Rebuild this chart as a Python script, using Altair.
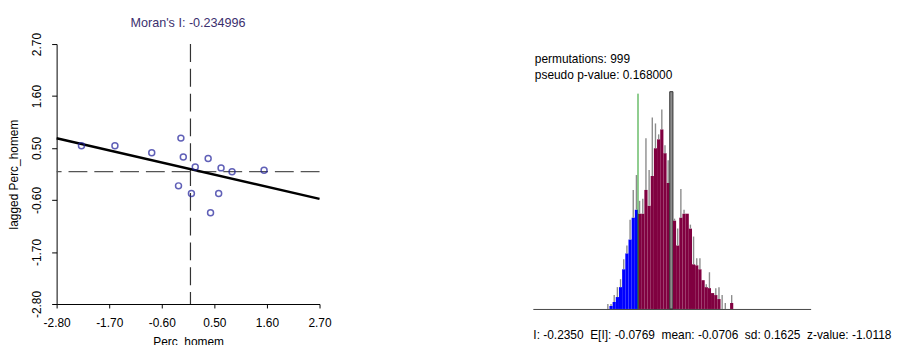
import altair as alt
import pandas as pd

FONT = "Liberation Sans"

# ---------------- Moran scatter plot data ----------------
perc_homem = [-2.28, -1.58, -0.81, -0.20, -0.15, 0.10, 0.37, 0.64, 0.87, 1.54, -0.25, 0.02, 0.59, 0.42]
lagged_perc_homem = [0.55, 0.55, 0.40, 0.71, 0.31, 0.10, 0.28, 0.08, 0.00, 0.03, -0.30, -0.46, -0.46, -0.87]
axis_ticks = [-2.80, -1.70, -0.60, 0.50, 1.60, 2.70]
axis_range = [-2.80, 2.70]
morans_i_title = "Moran's I: -0.234996"

# ---------------- permutation histogram data ----------------
bin_start = -0.435
bin_width = 0.02
fill_counts = [0, 3, 7, 12, 22, 40, 56, 70, 92, 100,
               96, 96, 120, 104, 134, 162, 171, 181, 157, 127,
               219, 89, 64, 92, 96, 96, 81, 45, 44, 40,
               29, 22, 21, 16, 14, 10, 0, 0, 0, 6]
outline_counts = [5, 5, 14, 22, 30, 50, 64, 90, 120, 135,
                  109, 111, 172, 140, 193, 187, 176, 201, 165, 150,
                  219, 91, 81, 121, 100, 96, 85, 73, 51, 51,
                  29, 25, 37, 16, 21, 22, 14, 6, 0, 14]
observed_i = -0.2350
observed_line_top = 217
hist_x_range = [-0.8975, 0.8525]
hist_y_range = [0, 267]
info_lines = ["permutations: 999", "pseudo p-value: 0.168000"]
info_y = [252, 236]
info_x = -0.885
stats_items = ["I: -0.2350", "E[I]: -0.0769", "mean: -0.0706", "sd: 0.1625", "z-value: -1.0118"]
stats_text = "\u00a0 ".join(stats_items)

# ---------------- left panel ----------------
pts = pd.DataFrame({"x": perc_homem, "y": lagged_perc_homem})

minus_fix = "replace(format(datum.value, '.2f'), '\u2212', '-')"
xs = alt.Scale(domain=axis_range, nice=False, zero=False)
ys = alt.Scale(domain=axis_range, nice=False, zero=False)
x_axis = alt.Axis(values=axis_ticks, labelExpr=minus_fix, title="Perc_homem", grid=False, labelFlush=False,
                  tickSize=4, labelPadding=10, titlePadding=8, domainColor="black", tickColor="black")
y_axis = alt.Axis(values=axis_ticks, labelExpr=minus_fix, title="lagged Perc_homem", grid=False, labelFlush=False,
                  tickSize=5, labelPadding=8, titlePadding=10, labelAngle=-90,
                  labelAlign="center", labelBaseline="bottom", domainColor="black", tickColor="black")

base = alt.Chart(pts)
points = base.mark_point(shape="circle", filled=False, size=36, color="#1E1E9A", strokeWidth=1.5).encode(
    x=alt.X("x:Q", scale=xs, axis=x_axis),
    y=alt.Y("y:Q", scale=ys, axis=y_axis),
)
reg = base.transform_regression("x", "y", extent=axis_range).mark_line(color="black", strokeWidth=2.5).encode(
    x=alt.X("x:Q", scale=xs, axis=x_axis),
    y=alt.Y("y:Q", scale=ys, axis=y_axis),
)
zero_df = pd.DataFrame({"v": [0.0]})
vline = alt.Chart(zero_df).mark_rule(color="#333333", strokeDash=[18, 7], strokeWidth=1.2).encode(
    x=alt.X("v:Q", scale=xs, axis=x_axis)
)
hline = alt.Chart(zero_df).mark_rule(color="#555555", strokeDash=[19, 7], strokeWidth=1.3).encode(
    y=alt.Y("v:Q", scale=ys, axis=y_axis)
)
left = alt.layer(vline, hline, reg, points).properties(
    width=265, height=262,
    title=alt.TitleParams(morans_i_title, fontSize=12.7, fontWeight="normal", color="#3B2F6E", font=FONT, offset=3),
)

# ---------------- right panel ----------------
n = len(fill_counts)
peak = max(fill_counts)
rows = []
for i in range(n):
    lo = bin_start + i * bin_width
    hi = lo + bin_width
    if fill_counts[i] == peak:
        side = "peak"
    elif hi <= observed_i + 1e-9:
        side = "below"
    else:
        side = "above"
    rows.append({"lo": lo, "hi": hi, "mid": lo + bin_width * 0.5, "fill": fill_counts[i],
                 "outline": outline_counts[i], "side": side})
hist = pd.DataFrame(rows)

hxs = alt.Scale(domain=hist_x_range, nice=False, zero=False)
hys = alt.Scale(domain=hist_y_range, nice=False, zero=False)
hx_axis = alt.Axis(ticks=False, labels=False, grid=False, title=stats_text, titleAnchor="start",
                   titleAlign="left", titlePadding=21, titleX=0, domainColor="#444444",
                   titleFontWeight="normal", titleFontSize=12)

bars = alt.Chart(hist).mark_bar().encode(
    x=alt.X("lo:Q", scale=hxs, axis=hx_axis),
    x2="hi:Q",
    y=alt.Y("fill:Q", scale=hys, axis=None),
    y2=alt.datum(0),
    color=alt.Color("side:N", scale=alt.Scale(domain=["below", "above", "peak"],
                                              range=["#0000FF", "#800040", "#8C8C8C"]), legend=None),
    stroke=alt.condition("datum.side == 'peak'", alt.value("#333333"), alt.value(None)),
)
spikes = alt.Chart(hist).transform_filter("datum.outline > datum.fill").mark_rule(
    color="#8C8C8C", strokeWidth=1.4).encode(
    x=alt.X("mid:Q", scale=hxs, axis=hx_axis),
    y=alt.Y("fill:Q", scale=hys, axis=None),
    y2="outline:Q",
)
obs_df = pd.DataFrame({"i": [observed_i], "top": [observed_line_top]})
obs_line = alt.Chart(obs_df).mark_rule(color="#1E9B1E", strokeWidth=1).encode(
    x=alt.X("i:Q", scale=hxs, axis=hx_axis),
    y=alt.Y("top:Q", scale=hys, axis=None),
    y2=alt.datum(0),
)
info_df = pd.DataFrame({"t": info_lines, "y": info_y, "x": [info_x] * len(info_lines)})
info = alt.Chart(info_df).mark_text(align="left", baseline="middle", fontSize=12, font=FONT, color="black").encode(
    x=alt.X("x:Q", scale=hxs, axis=hx_axis),
    y=alt.Y("y:Q", scale=hys, axis=None),
    text="t:N",
)
right = alt.layer(bars, spikes, obs_line, info).properties(
    width=280, height=267,
    title=alt.TitleParams(" ", fontSize=12.7, fontWeight="normal", font=FONT, offset=0),
)

chart = alt.hconcat(left, right, spacing=203).properties(
    padding={"left": 0, "top": 7, "right": 0, "bottom": 0}
).configure(font=FONT).configure_view(stroke=None).configure_axis(
    labelFont=FONT, titleFont=FONT, labelFontSize=12, titleFontSize=12,
    titleFontWeight="normal", labelColor="black", titleColor="black"
)

chart.save("out.html", embed_options={"renderer": "svg", "actions": False})
